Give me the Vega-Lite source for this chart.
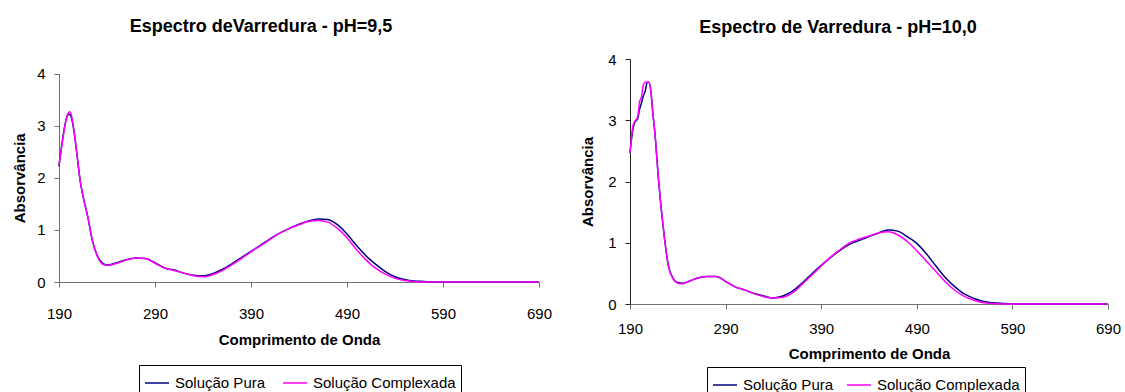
{
  "$schema": "https://vega.github.io/schema/vega-lite/v6.json",
  "background": "white",
  "padding": {"left": 12, "top": 18, "right": 0, "bottom": 0},
  "spacing": 28,
  "align": "none",
  "config": {
    "view": {"stroke": null},
    "font": "Liberation Sans",
    "axis": {
      "grid": false,
      "labelFont": "Liberation Sans",
      "labelFontSize": 15,
      "labelColor": "#000",
      "titleFont": "Liberation Sans",
      "titleFontSize": 15,
      "titleFontWeight": "bold",
      "titleColor": "#000",
      "tickSize": 5,
      "domainColor": "#707070",
      "tickColor": "#707070"
    },
    "legend": {
      "orient": "none",
      "direction": "horizontal",
      "strokeColor": "#000",
      "padding": 5,
      "symbolType": "stroke",
      "symbolSize": 576,
      "symbolStrokeWidth": 1.5,
      "labelFont": "Liberation Sans",
      "labelFontSize": 15,
      "labelColor": "#000",
      "labelOffset": 5,
      "columnPadding": 14
    },
    "title": {"font": "Liberation Sans", "fontSize": 18, "fontWeight": "bold", "color": "#000", "anchor": "middle", "baseline": "alphabetic"}
  },
  "datasets": {
    "ph95": [
      {"nm": 190, "Solução Pura": 2.22, "Solução Complexada": 2.25},
      {"nm": 193, "Solução Pura": 2.65, "Solução Complexada": 2.62},
      {"nm": 196, "Solução Pura": 3.0, "Solução Complexada": 2.98},
      {"nm": 199, "Solução Pura": 3.2, "Solução Complexada": 3.22},
      {"nm": 201, "Solução Pura": 3.22, "Solução Complexada": 3.27},
      {"nm": 203, "Solução Pura": 3.15, "Solução Complexada": 3.2},
      {"nm": 206, "Solução Pura": 2.85, "Solução Complexada": 2.85},
      {"nm": 209, "Solução Pura": 2.4, "Solução Complexada": 2.42},
      {"nm": 212, "Solução Pura": 1.95, "Solução Complexada": 1.95},
      {"nm": 215, "Solução Pura": 1.65, "Solução Complexada": 1.65},
      {"nm": 220, "Solução Pura": 1.25, "Solução Complexada": 1.25},
      {"nm": 225, "Solução Pura": 0.78, "Solução Complexada": 0.78},
      {"nm": 230, "Solução Pura": 0.5, "Solução Complexada": 0.49},
      {"nm": 235, "Solução Pura": 0.37, "Solução Complexada": 0.35},
      {"nm": 240, "Solução Pura": 0.33, "Solução Complexada": 0.32},
      {"nm": 245, "Solução Pura": 0.34, "Solução Complexada": 0.33},
      {"nm": 250, "Solução Pura": 0.37, "Solução Complexada": 0.36},
      {"nm": 260, "Solução Pura": 0.43, "Solução Complexada": 0.42},
      {"nm": 270, "Solução Pura": 0.46, "Solução Complexada": 0.46},
      {"nm": 280, "Solução Pura": 0.45, "Solução Complexada": 0.45},
      {"nm": 290, "Solução Pura": 0.37, "Solução Complexada": 0.36},
      {"nm": 300, "Solução Pura": 0.27, "Solução Complexada": 0.27},
      {"nm": 310, "Solução Pura": 0.23, "Solução Complexada": 0.22},
      {"nm": 320, "Solução Pura": 0.17, "Solução Complexada": 0.17},
      {"nm": 330, "Solução Pura": 0.13, "Solução Complexada": 0.12},
      {"nm": 340, "Solução Pura": 0.12, "Solução Complexada": 0.1},
      {"nm": 350, "Solução Pura": 0.16, "Solução Complexada": 0.14},
      {"nm": 360, "Solução Pura": 0.24, "Solução Complexada": 0.22},
      {"nm": 370, "Solução Pura": 0.35, "Solução Complexada": 0.33},
      {"nm": 380, "Solução Pura": 0.47, "Solução Complexada": 0.45},
      {"nm": 390, "Solução Pura": 0.59, "Solução Complexada": 0.58},
      {"nm": 400, "Solução Pura": 0.71, "Solução Complexada": 0.7},
      {"nm": 410, "Solução Pura": 0.83, "Solução Complexada": 0.82},
      {"nm": 420, "Solução Pura": 0.94, "Solução Complexada": 0.94},
      {"nm": 430, "Solução Pura": 1.03, "Solução Complexada": 1.03},
      {"nm": 440, "Solução Pura": 1.11, "Solução Complexada": 1.1},
      {"nm": 450, "Solução Pura": 1.17, "Solução Complexada": 1.16},
      {"nm": 460, "Solução Pura": 1.21, "Solução Complexada": 1.18},
      {"nm": 470, "Solução Pura": 1.2, "Solução Complexada": 1.15},
      {"nm": 480, "Solução Pura": 1.1, "Solução Complexada": 1.03},
      {"nm": 490, "Solução Pura": 0.92, "Solução Complexada": 0.85},
      {"nm": 500, "Solução Pura": 0.7, "Solução Complexada": 0.62},
      {"nm": 510, "Solução Pura": 0.5, "Solução Complexada": 0.42},
      {"nm": 520, "Solução Pura": 0.34, "Solução Complexada": 0.26},
      {"nm": 530, "Solução Pura": 0.2, "Solução Complexada": 0.15},
      {"nm": 540, "Solução Pura": 0.1, "Solução Complexada": 0.07},
      {"nm": 550, "Solução Pura": 0.05, "Solução Complexada": 0.03},
      {"nm": 560, "Solução Pura": 0.02, "Solução Complexada": 0.01},
      {"nm": 570, "Solução Pura": 0.01, "Solução Complexada": 0.0},
      {"nm": 580, "Solução Pura": 0.0, "Solução Complexada": 0.0},
      {"nm": 600, "Solução Pura": 0.0, "Solução Complexada": 0.0},
      {"nm": 620, "Solução Pura": 0.0, "Solução Complexada": 0.0},
      {"nm": 640, "Solução Pura": 0.0, "Solução Complexada": 0.0},
      {"nm": 660, "Solução Pura": 0.0, "Solução Complexada": 0.0},
      {"nm": 690, "Solução Pura": 0.0, "Solução Complexada": 0.0}
    ],
    "ph100": [
      {"nm": 190, "Solução Pura": 2.47, "Solução Complexada": 2.47},
      {"nm": 193, "Solução Pura": 2.85, "Solução Complexada": 2.9},
      {"nm": 195, "Solução Pura": 2.97, "Solução Complexada": 2.98},
      {"nm": 198, "Solução Pura": 3.02, "Solução Complexada": 3.05},
      {"nm": 200, "Solução Pura": 3.18, "Solução Complexada": 3.3},
      {"nm": 202, "Solução Pura": 3.28, "Solução Complexada": 3.38},
      {"nm": 204, "Solução Pura": 3.4, "Solução Complexada": 3.58},
      {"nm": 206, "Solução Pura": 3.48, "Solução Complexada": 3.62},
      {"nm": 208, "Solução Pura": 3.62, "Solução Complexada": 3.62},
      {"nm": 210, "Solução Pura": 3.62, "Solução Complexada": 3.62},
      {"nm": 212, "Solução Pura": 3.45, "Solução Complexada": 3.45},
      {"nm": 214, "Solução Pura": 3.1, "Solução Complexada": 3.1},
      {"nm": 216, "Solução Pura": 2.8, "Solução Complexada": 2.8},
      {"nm": 220, "Solução Pura": 2.0, "Solução Complexada": 2.0},
      {"nm": 225, "Solução Pura": 1.22, "Solução Complexada": 1.22},
      {"nm": 230, "Solução Pura": 0.64, "Solução Complexada": 0.63},
      {"nm": 235, "Solução Pura": 0.42, "Solução Complexada": 0.41},
      {"nm": 240, "Solução Pura": 0.35, "Solução Complexada": 0.34},
      {"nm": 245, "Solução Pura": 0.34, "Solução Complexada": 0.33},
      {"nm": 250, "Solução Pura": 0.36, "Solução Complexada": 0.36},
      {"nm": 260, "Solução Pura": 0.42, "Solução Complexada": 0.42},
      {"nm": 270, "Solução Pura": 0.45, "Solução Complexada": 0.45},
      {"nm": 280, "Solução Pura": 0.45, "Solução Complexada": 0.45},
      {"nm": 290, "Solução Pura": 0.37, "Solução Complexada": 0.37},
      {"nm": 300, "Solução Pura": 0.28, "Solução Complexada": 0.28},
      {"nm": 310, "Solução Pura": 0.23, "Solução Complexada": 0.23},
      {"nm": 320, "Solução Pura": 0.17, "Solução Complexada": 0.17},
      {"nm": 330, "Solução Pura": 0.13, "Solução Complexada": 0.12},
      {"nm": 340, "Solução Pura": 0.1, "Solução Complexada": 0.1},
      {"nm": 350, "Solução Pura": 0.13, "Solução Complexada": 0.11},
      {"nm": 360, "Solução Pura": 0.21, "Solução Complexada": 0.18},
      {"nm": 370, "Solução Pura": 0.34, "Solução Complexada": 0.32},
      {"nm": 380, "Solução Pura": 0.49, "Solução Complexada": 0.47},
      {"nm": 390, "Solução Pura": 0.63, "Solução Complexada": 0.62},
      {"nm": 400, "Solução Pura": 0.76, "Solução Complexada": 0.77},
      {"nm": 410, "Solução Pura": 0.88, "Solução Complexada": 0.89},
      {"nm": 420, "Solução Pura": 0.98, "Solução Complexada": 1.0},
      {"nm": 430, "Solução Pura": 1.04, "Solução Complexada": 1.06},
      {"nm": 440, "Solução Pura": 1.1, "Solução Complexada": 1.11},
      {"nm": 450, "Solução Pura": 1.16, "Solução Complexada": 1.16},
      {"nm": 460, "Solução Pura": 1.21, "Solução Complexada": 1.18},
      {"nm": 470, "Solução Pura": 1.19, "Solução Complexada": 1.13},
      {"nm": 480, "Solução Pura": 1.1, "Solução Complexada": 1.02},
      {"nm": 490, "Solução Pura": 0.99, "Solução Complexada": 0.87},
      {"nm": 500, "Solução Pura": 0.82, "Solução Complexada": 0.7},
      {"nm": 510, "Solução Pura": 0.62, "Solução Complexada": 0.53},
      {"nm": 520, "Solução Pura": 0.43, "Solução Complexada": 0.36},
      {"nm": 530, "Solução Pura": 0.28, "Solução Complexada": 0.22},
      {"nm": 540, "Solução Pura": 0.16, "Solução Complexada": 0.12},
      {"nm": 550, "Solução Pura": 0.09, "Solução Complexada": 0.06},
      {"nm": 560, "Solução Pura": 0.04, "Solução Complexada": 0.02},
      {"nm": 570, "Solução Pura": 0.02, "Solução Complexada": 0.01},
      {"nm": 580, "Solução Pura": 0.01, "Solução Complexada": 0.0},
      {"nm": 600, "Solução Pura": 0.0, "Solução Complexada": 0.0},
      {"nm": 620, "Solução Pura": 0.0, "Solução Complexada": 0.0},
      {"nm": 640, "Solução Pura": 0.0, "Solução Complexada": 0.0},
      {"nm": 660, "Solução Pura": 0.0, "Solução Complexada": 0.0},
      {"nm": 690, "Solução Pura": 0.0, "Solução Complexada": 0.0}
    ]
  },
  "hconcat": [
    {
      "width": 480,
      "height": 223,
      "title": {"text": "Espectro deVarredura - pH=9,5", "offset": 23, "dx": -38},
      "data": {"name": "ph95"},
      "transform": [{"fold": ["Solução Pura", "Solução Complexada"], "as": ["serie", "a"]}],
      "mark": {"type": "line", "strokeWidth": 1.5, "interpolate": "monotone"},
      "encoding": {
        "x": {"field": "nm", "type": "quantitative", "scale": {"domain": [190, 690], "nice": false, "zero": false},
              "axis": {"values": [190, 290, 390, 490, 590, 690], "title": "Comprimento de Onda", "labelPadding": 19, "titlePadding": 11, "labelFlush": false}},
        "y": {"field": "a", "type": "quantitative", "scale": {"domain": [0, 4], "nice": false, "range": [223, 14.7]},
              "axis": {"values": [0, 1, 2, 3, 4], "title": "Absorvância", "labelPadding": 9, "titlePadding": 9}},
        "color": {"field": "serie", "type": "nominal",
                  "scale": {"domain": ["Solução Pura", "Solução Complexada"], "range": ["#000080", "#FF00FF"]},
                  "legend": {"title": null, "legendX": 80, "legendY": 306, "columnPadding": 14}}
      }
    },
    {
      "width": 478,
      "height": 245,
      "title": {"text": "Espectro de Varredura - pH=10,0", "offset": 15.5, "dx": -31},
      "data": {"name": "ph100"},
      "transform": [{"fold": ["Solução Pura", "Solução Complexada"], "as": ["serie", "a"]}],
      "mark": {"type": "line", "strokeWidth": 1.5, "interpolate": "monotone"},
      "encoding": {
        "x": {"field": "nm", "type": "quantitative", "scale": {"domain": [190, 690], "nice": false, "zero": false},
              "axis": {"values": [190, 290, 390, 490, 590, 690], "title": "Comprimento de Onda", "labelPadding": 12, "titlePadding": 10, "labelFlush": false}},
        "y": {"field": "a", "type": "quantitative", "scale": {"domain": [0, 4], "nice": false},
              "axis": {"values": [0, 1, 2, 3, 4], "title": "Absorvância", "labelPadding": 9, "titlePadding": 12, "domainColor": "#202020", "tickColor": "#202020"}},
        "color": {"field": "serie", "type": "nominal",
                  "scale": {"domain": ["Solução Pura", "Solução Complexada"], "range": ["#000080", "#FF00FF"]},
                  "legend": {"title": null, "legendX": 77, "legendY": 308, "columnPadding": 10}}
      }
    }
  ],
  "resolve": {"scale": {"color": "independent"}, "legend": {"color": "independent"}}
}
